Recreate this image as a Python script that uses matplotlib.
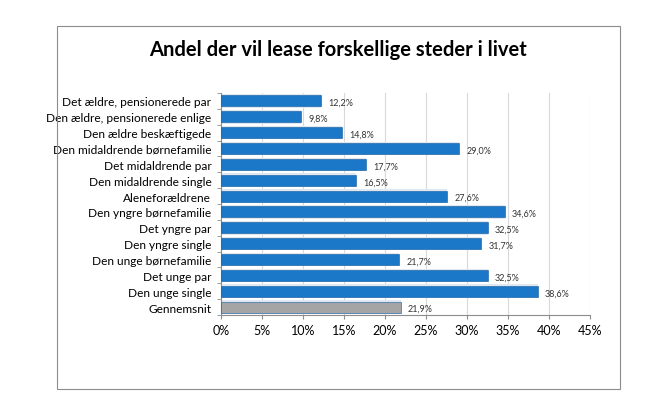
import numpy as np
import matplotlib.pyplot as plt
from matplotlib.patches import Rectangle
from matplotlib.ticker import FuncFormatter

categories = [
    "Det ældre, pensionerede par",
    "Den ældre, pensionerede enlige",
    "Den ældre beskæftigede",
    "Den midaldrende børnefamilie",
    "Det midaldrende par",
    "Den midaldrende single",
    "Aleneforældrene",
    "Den yngre børnefamilie",
    "Det yngre par",
    "Den yngre single",
    "Den unge børnefamilie",
    "Det unge par",
    "Den unge single",
    "Gennemsnit",
]
values = [12.2, 9.8, 14.8, 29.0, 17.7, 16.5, 27.6, 34.6, 32.5, 31.7, 21.7, 32.5, 38.6, 21.9]

plt.rcParams['font.family'] = ['Lato', 'DejaVu Sans']

fig = plt.figure(figsize=(6.6, 4.06), dpi=100)
# outer chart frame
fig.patches.append(Rectangle((57 / 660, 1 - 390 / 406), 563 / 660, 363 / 406,
                             transform=fig.transFigure, fill=False,
                             edgecolor='#8c8c8c', linewidth=0.8))
fig.text(0.512, 0.877, "Andel der vil lease forskellige steder i livet",
         ha='center', va='center', fontsize=14.5, fontweight='bold')

ax = fig.add_axes([221 / 660, 1 - 316 / 406, 369 / 660, 222 / 406])

y = np.arange(len(categories))
colors = ['#1b78c8'] * (len(categories) - 1) + ['#a5a5a5']
# soft halo behind bars
ax.barh(y, values, height=0.86, color='#dfe8f0', zorder=2)
ax.barh(y, values, height=0.7, color=colors, edgecolor='#0d5a9e', linewidth=0.4, zorder=3)

for yi, v in zip(y, values):
    ax.text(v + 0.9, yi + 0.1, f"{v:.1f}%".replace('.', ','), va='center',
            ha='left', fontsize=6.5, color='#333333', zorder=4)

ax.set_xlim(0, 45)
ax.set_xticks(np.arange(0, 46, 5))
ax.xaxis.set_major_formatter(FuncFormatter(lambda x, p: f"{int(x)}%"))
ax.set_ylim(len(categories) - 0.5, -0.5)
ax.set_yticks(y)
ax.set_yticklabels(categories, fontsize=8.6)
ax.tick_params(axis='x', labelsize=9, length=3, color='#8c8c8c')
ax.set_yticks(np.arange(-0.5, len(categories), 1), minor=True)
ax.tick_params(axis='y', which='major', length=0, pad=7)
ax.tick_params(axis='y', which='minor', length=3, color='#8c8c8c')

ax.grid(axis='x', color='#d9d9d9', linewidth=0.8, zorder=0)
ax.set_axisbelow(True)
for s in ['top', 'right']:
    ax.spines[s].set_visible(False)
ax.spines['left'].set_color('#8c8c8c')
ax.spines['bottom'].set_color('#8c8c8c')

fig.savefig("out.png", dpi=100)
